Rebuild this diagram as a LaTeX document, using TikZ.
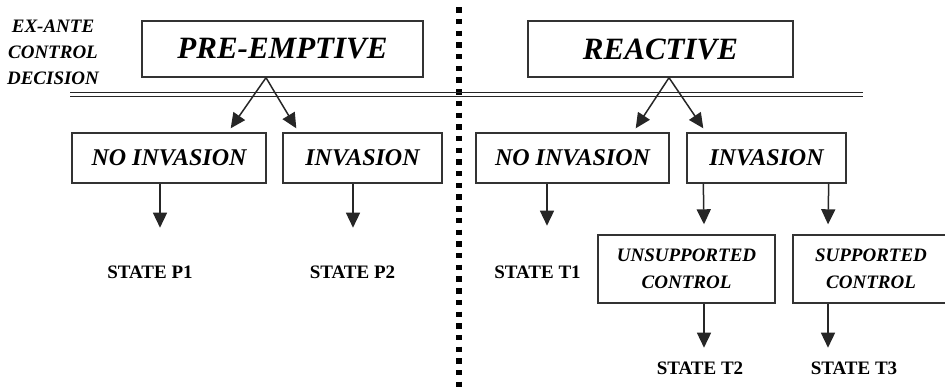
\documentclass[tikz,border=0pt]{standalone}
\usepackage{fontspec}
\setmainfont{Liberation Serif}
\usetikzlibrary{arrows.meta}
\begin{document}
\begin{tikzpicture}[x=1pt,y=-1pt,
  boxnode/.style={draw=black!80,line width=1.4pt,inner sep=0pt,align=center,font=\bfseries\itshape},
  bigtxt/.style={font=\fontsize{31}{34}\selectfont\bfseries\itshape},
  midtxt/.style={font=\fontsize{24}{27}\selectfont\bfseries\itshape},
  smalltxt/.style={font=\fontsize{19}{27}\selectfont\bfseries\itshape},
  statetxt/.style={font=\fontsize{19}{22}\selectfont\bfseries,inner sep=0pt},
  arr/.style={draw=black!85,line width=1.5pt,-{Triangle[length=15pt,width=14pt]}}]
\useasboundingbox (0,0) rectangle (945,390);
% divider
\draw[line width=5.5pt,dash pattern=on 5.4pt off 6.3pt] (459,7.3) -- (459,390);
% double line
\draw[black!85,line width=1.3pt] (70,92.5) -- (863,92.5);
\draw[black!85,line width=1.3pt] (70,96.5) -- (863,96.5);
% label
\node[font=\fontsize{19}{26}\selectfont\bfseries\itshape,align=center,inner sep=0pt] (exa) at (53,52) {EX-ANTE\\CONTROL\\DECISION};
% top boxes
\node[boxnode,bigtxt,minimum width=281pt,minimum height=56pt] (pre) at (282.5,49) {PRE-EMPTIVE};
\node[boxnode,bigtxt,minimum width=265pt,minimum height=56pt] (reac) at (660.5,49) {REACTIVE};
% second row
\node[boxnode,midtxt,minimum width=194pt,minimum height=50pt] (noinvL) at (169,158) {NO INVASION};
\node[boxnode,midtxt,minimum width=159pt,minimum height=50pt] (invL) at (362.5,158) {INVASION};
\node[boxnode,midtxt,minimum width=193pt,minimum height=50pt] (noinvR) at (572.5,158) {NO INVASION};
\node[boxnode,midtxt,minimum width=159pt,minimum height=50pt] (invR) at (766.5,158) {INVASION};
% third row
\node[boxnode,smalltxt,minimum width=177pt,minimum height=68pt] (unsup) at (686.5,269) {UNSUPPORTED\\CONTROL};
\node[boxnode,smalltxt,minimum width=156pt,minimum height=68pt] (sup) at (871,269) {SUPPORTED\\CONTROL};
% states
\node[statetxt] (p1) at (150,272) {STATE P1};
\node[statetxt] (p2) at (352.5,272) {STATE P2};
\node[statetxt] (t1) at (537.5,272) {STATE T1};
\node[statetxt] (t2) at (700,368) {STATE T2};
\node[statetxt] (t3) at (854,368) {STATE T3};
% arrows
\draw[arr] ([xshift=-16.5pt]pre.south) -- ([xshift=-36pt,yshift=4pt]noinvL.north east);
\draw[arr] ([xshift=-16.5pt]pre.south) -- ([xshift=14pt,yshift=4pt]invL.north west);
\draw[arr] ([xshift=8.5pt]reac.south) -- ([xshift=-34pt,yshift=4pt]noinvR.north east);
\draw[arr] ([xshift=8.5pt]reac.south) -- ([xshift=17pt,yshift=4pt]invR.north west);
\draw[arr] ([xshift=-9pt]noinvL.south) -- ([xshift=-9pt,yshift=-44pt]noinvL.south);
\draw[arr] ([xshift=-9.5pt]invL.south) -- ([xshift=-9.5pt,yshift=-44pt]invL.south);
\draw[arr] ([xshift=-25.5pt]noinvR.south) -- ([xshift=-25.5pt,yshift=-42pt]noinvR.south);
\draw[arr] ([xshift=17pt]invR.south west) -- ([xshift=17.5pt,yshift=10pt]unsup.north);
\draw[arr] ([xshift=-18pt]invR.south east) -- ([xshift=-43pt,yshift=10pt]sup.north);
\draw[arr] ([xshift=17.5pt]unsup.south) -- ([xshift=17.5pt,yshift=-44pt]unsup.south);
\draw[arr] ([xshift=-43pt]sup.south) -- ([xshift=-43pt,yshift=-44pt]sup.south);
\end{tikzpicture}
\end{document}
